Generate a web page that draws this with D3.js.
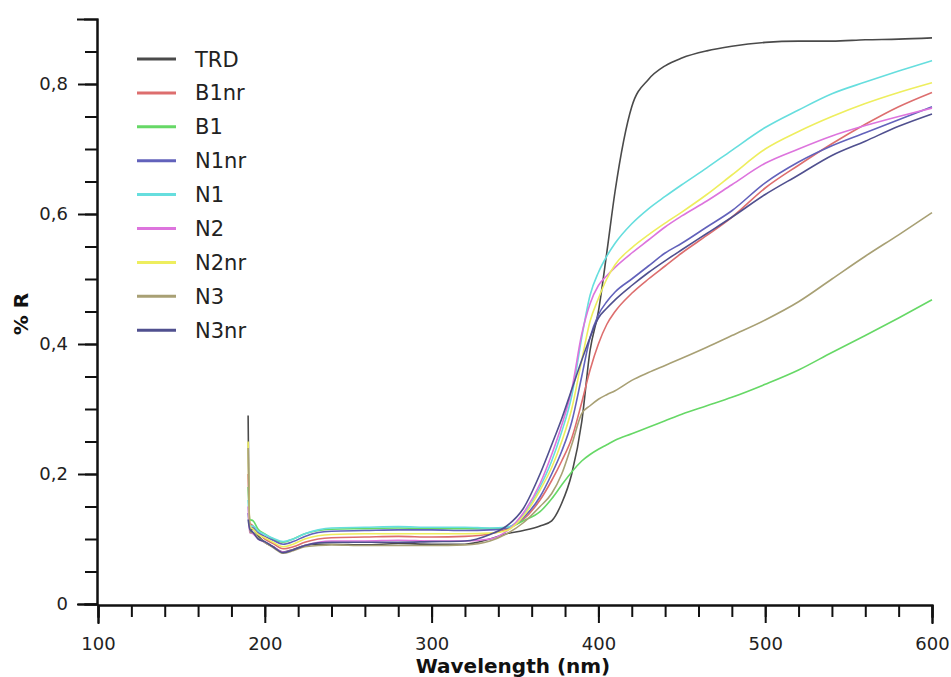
<!DOCTYPE html>
<html>
<head>
<meta charset="utf-8">
<script src="https://cdn.jsdelivr.net/npm/d3@7"></script>
<style>
  body { margin: 0; background: #fff; }
  svg { display: block; }
  .axis path, .axis line { stroke: #111; stroke-width: 2; }
  .axis text { font-family: "DejaVu Sans", Verdana, sans-serif; font-size: 18px; fill: #222; }
</style>
</head>
<body>
<svg id="chart" width="951" height="677"></svg>
<script>
// wavelength samples (nm) shared by every series
var wavelength = [190,191,193,196,200,205,211,217,224,232,240,260,280,300,320,335,345,355,365,372,378,384,390,395,400,405,410,420,430,440,450,465,480,500,520,540,560,580,600];

// % R values, one list per sample
var TRD  = [0.29,0.112,0.115,0.105,0.095,0.088,0.080,0.084,0.090,0.092,0.092,0.091,0.093,0.092,0.092,0.100,0.108,0.113,0.120,0.128,0.155,0.200,0.280,0.390,0.450,0.540,0.635,0.765,0.807,0.828,0.840,0.851,0.858,0.864,0.866,0.866,0.868,0.869,0.871];
var B1nr = [0.20,0.125,0.120,0.110,0.100,0.093,0.085,0.088,0.095,0.100,0.102,0.103,0.104,0.103,0.104,0.108,0.115,0.130,0.160,0.190,0.220,0.255,0.310,0.360,0.400,0.430,0.450,0.478,0.500,0.520,0.540,0.567,0.595,0.640,0.675,0.708,0.738,0.765,0.787];
var B1   = [0.18,0.130,0.128,0.115,0.108,0.100,0.095,0.100,0.108,0.113,0.115,0.116,0.117,0.116,0.116,0.116,0.117,0.128,0.142,0.162,0.183,0.203,0.220,0.230,0.238,0.245,0.252,0.262,0.272,0.282,0.292,0.305,0.318,0.338,0.360,0.387,0.413,0.440,0.468];
var N1nr = [0.14,0.118,0.117,0.110,0.104,0.098,0.092,0.096,0.104,0.110,0.112,0.113,0.114,0.114,0.113,0.114,0.117,0.133,0.165,0.200,0.235,0.280,0.350,0.410,0.445,0.465,0.480,0.500,0.520,0.540,0.555,0.580,0.605,0.648,0.680,0.705,0.725,0.745,0.765];
var N1   = [0.16,0.120,0.120,0.112,0.107,0.101,0.096,0.100,0.108,0.114,0.117,0.118,0.119,0.118,0.118,0.117,0.118,0.137,0.180,0.220,0.265,0.320,0.410,0.475,0.510,0.535,0.555,0.585,0.608,0.627,0.645,0.671,0.698,0.733,0.760,0.785,0.803,0.820,0.836];
var N2   = [0.15,0.110,0.108,0.100,0.095,0.088,0.080,0.083,0.090,0.095,0.097,0.097,0.098,0.097,0.097,0.100,0.112,0.140,0.185,0.230,0.275,0.330,0.415,0.462,0.490,0.505,0.518,0.540,0.560,0.580,0.597,0.620,0.645,0.678,0.700,0.720,0.736,0.750,0.763];
var N2nr = [0.25,0.120,0.115,0.107,0.102,0.095,0.088,0.092,0.100,0.105,0.107,0.108,0.108,0.108,0.108,0.109,0.113,0.135,0.175,0.210,0.250,0.300,0.375,0.435,0.470,0.500,0.522,0.548,0.568,0.586,0.603,0.630,0.660,0.700,0.727,0.750,0.770,0.787,0.802];
var N3   = [0.24,0.110,0.110,0.102,0.095,0.087,0.078,0.082,0.088,0.090,0.091,0.090,0.090,0.090,0.091,0.097,0.108,0.125,0.150,0.170,0.200,0.245,0.293,0.305,0.315,0.322,0.328,0.344,0.356,0.367,0.378,0.395,0.413,0.437,0.465,0.500,0.535,0.568,0.602];
var N3nr = [0.13,0.115,0.110,0.100,0.096,0.088,0.079,0.083,0.090,0.094,0.095,0.095,0.095,0.096,0.097,0.107,0.120,0.147,0.200,0.245,0.285,0.330,0.375,0.410,0.440,0.455,0.468,0.490,0.510,0.528,0.545,0.570,0.595,0.630,0.660,0.690,0.712,0.735,0.754];

var seriesNames  = ["TRD","B1nr","B1","N1nr","N1","N2","N2nr","N3","N3nr"];
var seriesValues = [TRD, B1nr, B1, N1nr, N1, N2, N2nr, N3, N3nr];
var seriesColors = ["#4a4a4a","#dd6e6e","#66d866","#6262bb","#66dede","#dd74dd","#eeee5e","#a8a074","#50508f"];

var yMajor = [0, 0.2, 0.4, 0.6, 0.8];
var xMajor = [100, 200, 300, 400, 500, 600];

var svg = d3.select("#chart");

var xScale = d3.scaleLinear().domain([100, 600]).range([98, 932]);
var yScale = d3.scaleLinear().domain([0, 0.9]).range([604, 19]);

// minor ticks first, then the labelled ones on top
svg.append("g")
   .attr("class", "axis")
   .attr("transform", "translate(97,0)")
   .call(d3.axisLeft(yScale).tickValues(d3.range(0, 0.9, 0.05)).tickSize(12).tickFormat(""));

svg.append("g")
   .attr("class", "axis")
   .attr("transform", "translate(97,0)")
   .call(d3.axisLeft(yScale).tickValues(yMajor).tickSize(19).tickPadding(10)
     .tickFormat(function(d){ return d === 0 ? "0" : d3.format(".1f")(d).replace(".", ","); }));

svg.append("g")
   .attr("class", "axis")
   .attr("transform", "translate(0,605)")
   .call(d3.axisBottom(xScale).tickValues(d3.range(100, 601, 20)).tickSize(12).tickFormat(""));

svg.append("g")
   .attr("class", "axis")
   .attr("transform", "translate(0,605)")
   .call(d3.axisBottom(xScale).tickValues(xMajor).tickSize(18).tickPadding(14).tickFormat(d3.format("d")));

svg.selectAll(".axis path.domain").attr("stroke-linecap", "square");

// axis titles
svg.append("text")
   .attr("x", 513)
   .attr("y", 673)
   .attr("text-anchor", "middle")
   .attr("font-family", "DejaVu Sans, Verdana, sans-serif")
   .attr("font-weight", "bold")
   .attr("font-size", "20px")
   .attr("fill", "#111")
   .text("Wavelength (nm)");

svg.append("text")
   .attr("transform", "translate(28,314) rotate(-90)")
   .attr("text-anchor", "middle")
   .attr("font-family", "DejaVu Sans, Verdana, sans-serif")
   .attr("font-weight", "bold")
   .attr("font-size", "20px")
   .attr("fill", "#111")
   .text("% R");

var line = d3.line()
    .x(function(d){ return xScale(d[0]); })
    .y(function(d){ return yScale(d[1]); })
    .curve(d3.curveMonotoneX);

seriesNames.forEach(function(name, i){
    var pts = wavelength.map(function(w, j){ return [w, seriesValues[i][j]]; });
    svg.append("path")
       .datum(pts)
       .attr("fill", "none")
       .attr("stroke", seriesColors[i])
       .attr("stroke-width", 1.6)
       .attr("d", line);
});

// legend
var legend = svg.append("g").attr("transform", "translate(137,59)");
var rows = legend.selectAll("g").data(seriesNames).enter().append("g")
    .attr("transform", function(d, i){ return "translate(0," + (i * 33.9) + ")"; });
rows.append("line")
    .attr("x1", 0).attr("x2", 39)
    .attr("stroke", function(d, i){ return seriesColors[i]; })
    .attr("stroke-width", 3);
rows.append("text")
    .attr("x", 58)
    .attr("dy", "0.36em")
    .attr("font-family", "DejaVu Sans, Verdana, sans-serif")
    .attr("font-size", "21px")
    .attr("fill", "#222")
    .text(function(d){ return d; });
</script>
</body>
</html>
